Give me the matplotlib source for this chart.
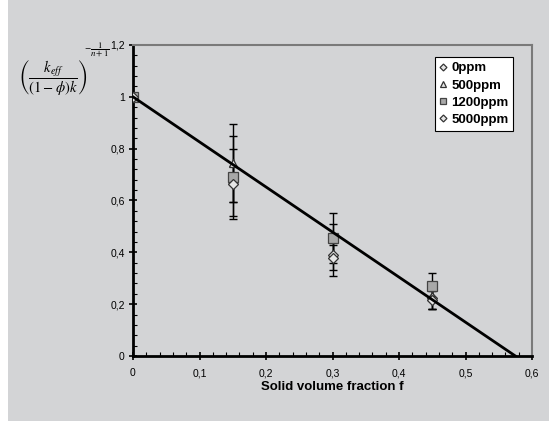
import matplotlib
matplotlib.use("Agg")
import matplotlib.pyplot as plt
import numpy as np
from matplotlib.ticker import MultipleLocator, FuncFormatter
from matplotlib.patches import Rectangle

plt.rcParams['font.family'] = ['Liberation Sans', 'DejaVu Sans']
plt.rcParams['mathtext.fontset'] = 'stix'

x = [0.0, 0.15, 0.30, 0.45]
series = ["0ppm", "500ppm", "1200ppm", "5000ppm"]
y_0 = [1.0, 0.67, 0.39, 0.225]
e_0 = [0.0, 0.13, 0.08, 0.045]
y_500 = [1.0, 0.745, 0.45, 0.23]
e_500 = [0.0, 0.15, 0.06, 0.05]
y_1200 = [1.0, 0.69, 0.455, 0.27]
e_1200 = [0.0, 0.16, 0.095, 0.05]
y_5000 = [1.0, 0.665, 0.38, 0.215]
e_5000 = [0.0, 0.07, 0.05, 0.035]
fit_x = [0.0, 0.575]
fit_y = [1.0, 0.0]

bg = '#d3d4d6'
fig = plt.figure(figsize=(5.49, 4.21), dpi=100, facecolor=bg)
fig.patches.append(Rectangle((0, 0), 8/549, 1, transform=fig.transFigure,
                             facecolor='white', edgecolor='none', zorder=0))
ax = fig.add_axes([133/549, 1-356/421, (532-133)/549, (356-45)/421])
ax.set_facecolor(bg)

styles = [
    dict(marker='D', ms=5, mfc='#e6e6e6', mec='#333333'),
    dict(marker='^', ms=6, mfc='#e6e6e6', mec='#333333'),
    dict(marker='s', ms=7, mfc='#a8a8a8', mec='#444444'),
    dict(marker='D', ms=5, mfc='#e6e6e6', mec='#333333'),
]
ys = [y_0, y_500, y_1200, y_5000]
es = [e_0, e_500, e_1200, e_5000]
for name, yy, ee, st in zip(series, ys, es, styles):
    ax.errorbar(x, yy, yerr=ee, fmt='none', ecolor='black', elinewidth=1,
                capsize=3, capthick=1, zorder=2)
for name, yy, ee, st in zip(series, ys, es, styles):
    ax.plot(x, yy, linestyle='none', label=name, mew=0.9, zorder=3, **st)

ax.plot(fit_x, fit_y, color='black', lw=2, zorder=4)

ax.set_xlim(0, 0.6)
ax.set_ylim(0, 1.2)
ax.xaxis.set_major_locator(MultipleLocator(0.1))
ax.xaxis.set_minor_locator(MultipleLocator(0.02))
ax.yaxis.set_major_locator(MultipleLocator(0.2))
ax.yaxis.set_minor_locator(MultipleLocator(0.04))

def fmt(v, pos):
    s = ('%.1f' % v).rstrip('0').rstrip('.')
    if s == '':
        s = '0'
    return s.replace('.', ',')
ax.xaxis.set_major_formatter(FuncFormatter(fmt))
ax.yaxis.set_major_formatter(FuncFormatter(fmt))

ax.tick_params(which='major', direction='inout', length=6, width=1.2, labelsize=7.5)
ax.tick_params(axis='x', which='major', pad=6)
ax.tick_params(axis='y', which='major', pad=3)
ax.tick_params(which='minor', direction='in', length=3, width=0.8)
ax.tick_params(top=False, right=False)

for s in ['left', 'bottom']:
    ax.spines[s].set_linewidth(2)
    ax.spines[s].set_color('black')
for s in ['top', 'right']:
    ax.spines[s].set_linewidth(1.5)
    ax.spines[s].set_color('#7a7a7a')

ax.set_xlabel('Solid volume fraction f', fontsize=9.5, fontweight='bold', labelpad=2)

leg = ax.legend(loc='upper right', bbox_to_anchor=(0.953, 0.96), frameon=True,
                fancybox=False, edgecolor='black', facecolor='white', framealpha=1,
                prop={'weight': 'bold', 'size': 9.5}, handlelength=0.6,
                handletextpad=0.3, borderpad=0.35, labelspacing=0.38,
                markerscale=0.7, borderaxespad=0)
leg.get_frame().set_linewidth(0.8)

fig.text(53/549, 1-78/421,
         r'$\left(\dfrac{k_{eff}}{(1-\phi)k}\right)$',
         fontsize=10.5, ha='center', va='center')
fig.text(84/549, 1-50/421, r'$-\dfrac{1}{n+1}$',
         fontsize=6.5, ha='left', va='center')

fig.savefig('out.png', dpi=100, facecolor=bg)
